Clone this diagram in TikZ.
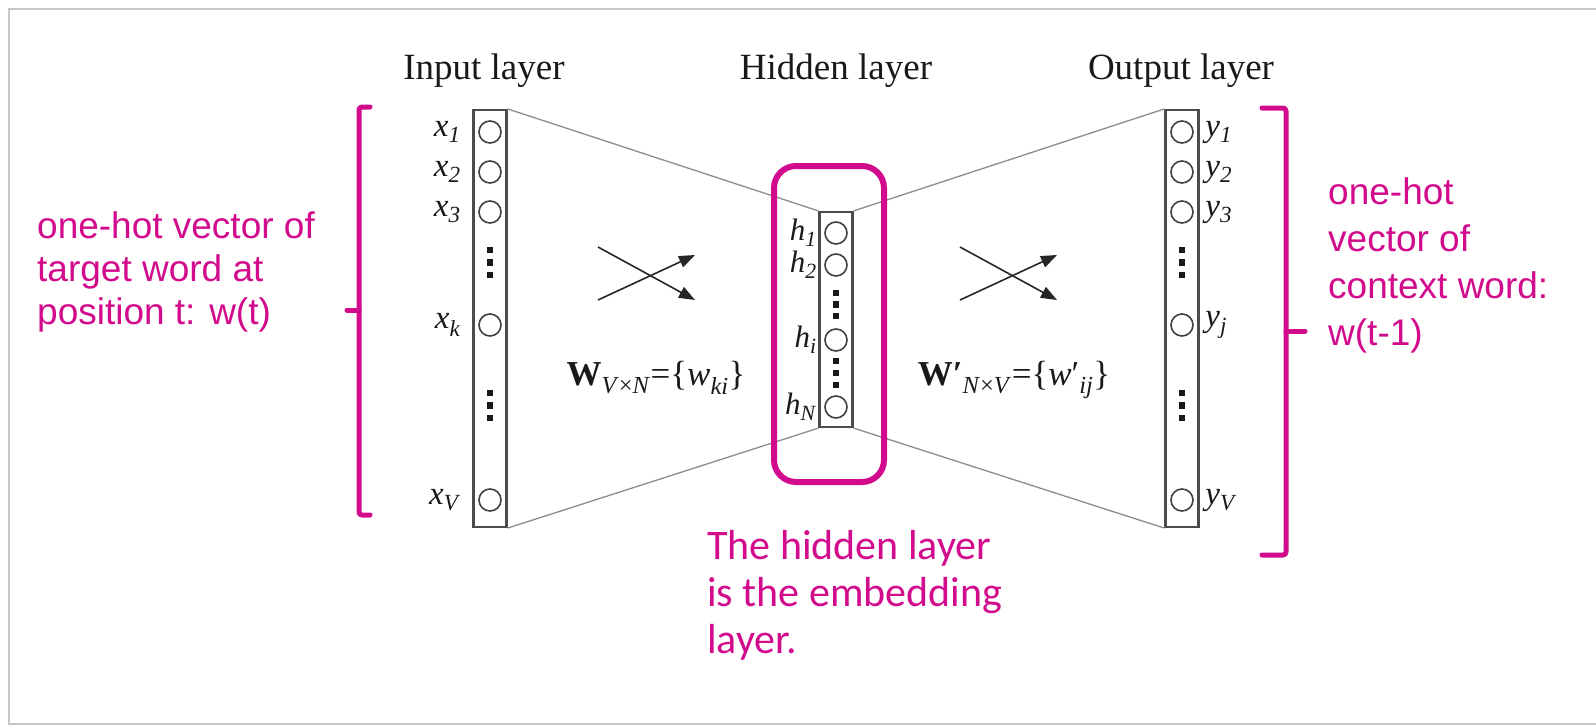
\documentclass[tikz,border=0pt]{standalone}
\usepackage{fontspec}
\setmainfont{Liberation Serif}
\newfontfamily\arialfont{Liberation Sans}
\newfontfamily\calibrifont{Carlito}
\usetikzlibrary{positioning,arrows.meta}
\definecolor{hotpink}{RGB}{210,10,140}
\newcommand{\unitlab}[2]{\textit{#1}\textsubscript{\textit{#2}}}

\begin{document}
\begin{tikzpicture}[x=1pt,y=-1pt,>={Triangle[length=16pt,width=12pt]},
    unit/.style={circle,draw=black!75,line width=1.6pt,minimum size=22pt,inner sep=0pt},
    layerbox/.style={draw=black!70,line width=2.2pt,minimum width=33pt,inner sep=0pt},
    fan/.style={draw=black!45,line width=1.3pt},
    xline/.style={draw=black!85,line width=1.6pt},
    brace/.style={draw=hotpink,line width=5pt,line cap=round,line join=round,rounded corners=3pt},
    note/.style={text=hotpink,align=left,anchor=north west,inner sep=0pt},
    head/.style={anchor=base,text=black!90,font=\fontsize{37}{40}\selectfont},
    lab/.style={text=black!90,font=\fontsize{33}{36}\selectfont},
    hlab/.style={text=black!90,font=\fontsize{31}{34}\selectfont},
    wlab/.style={text=black!90,font=\fontsize{35}{38}\selectfont}]
                \useasboundingbox (0,0) rectangle (1596,728);
                \draw[black!22,line width=2.5pt] (9,9) rectangle (1612,724);
                \node[head] (inhead) at (484,79) {Input layer};
                \node[head] (hidhead) at (836,79) {Hidden layer};
                \node[head] (outhead) at (1181,79) {Output layer};
                \node[layerbox,minimum height=417pt] (inbox) at (490,318.5) {};
                \node[layerbox,minimum height=215pt] (hidbox) at (836,319.5) {};
                \node[layerbox,minimum height=417pt] (outbox) at (1182,318.5) {};
                \draw[fan] (inbox.north east) -- (hidbox.north west);
                \draw[fan] (inbox.south east) -- (hidbox.south west);
                \draw[fan] (hidbox.north east) -- (outbox.north west);
                \draw[fan] (hidbox.south east) -- (outbox.south west);
                \foreach \n/\y in {1/132,2/172,3/212,k/325,V/500}
                    \node[unit,label={[lab,label distance=14pt]left:\unitlab{x}{\n}}] (x\n) at (490,\y) {};
                \foreach \n/\y in {1/233,2/265,i/340,N/407}
                    \node[unit,label={[hlab,label distance=4pt]left:\unitlab{h}{\n}}] (h\n) at (836,\y) {};
                \foreach \n/\y in {1/132,2/172,3/212,j/325,V/500}
                    \node[unit,label={[lab,label distance=8pt]right:\unitlab{y}{\n}}] (y\n) at (1182,\y) {};
                \foreach \y in {250,262.5,275,393,405.5,418}{
                    \fill[black!90] (486.8,\y-3.2) rectangle ++(6.4,6.4);
                    \fill[black!90] (1178.8,\y-3.2) rectangle ++(6.4,6.4);}
                \foreach \y in {293,304.5,316,361,373,385}
                    \fill[black!90] (832.8,\y-3.2) rectangle ++(6.4,6.4);
                \coordinate (la) at (598,247);
                \coordinate (lb) at (598,300);
                \coordinate (lc) at (695,300);
                \coordinate (ld) at (695,255);
                \draw[->,xline] (la) -- (lc);
                \draw[->,xline] (lb) -- (ld);
                \coordinate (ra) at (960,247);
                \coordinate (rb) at (960,300);
                \coordinate (rc) at (1057,300);
                \coordinate (rd) at (1057,255);
                \draw[->,xline] (ra) -- (rc);
                \draw[->,xline] (rb) -- (rd);
                \node[wlab] (wleft) at (656,378) {\textbf{W}\textsubscript{\textit{V}×\textit{N}}=\{\textit{w}\textsubscript{\textit{ki}}\}};
                \node[wlab] (wright) at (1014,380) {\textbf{W′}\textsubscript{\textit{N}×\textit{V}}=\{\textit{w}′\textsubscript{\textit{ij}}\}};
                \node[draw=hotpink,line width=6pt,rounded corners=22pt,minimum width=110pt,minimum height=316pt,inner sep=0pt] (embed) at (829,324) {};
                \draw[brace] (370,107) -- (359,107) -- (359,515) -- (370,515);
                \draw[brace] (359,310) -- (347,310);
                \draw[brace] (1262,108) -- (1286,108) -- (1286,555) -- (1262,555);
                \draw[brace] (1286,331) -- (1305,331);
                \node[note,font=\arialfont\fontsize{37}{43}\selectfont] (srcnote) at (37,211) {one-hot vector of\\target word at\\position t: w(t)};
                \node[note,font=\arialfont\fontsize{37}{47}\selectfont] (ctxnote) at (1328,177) {one-hot\\vector of\\context word:\\w(t-1)};
                \node[note,font=\calibrifont\fontsize{42}{47}\selectfont] (embnote) at (707,530) {The hidden layer\\is the embedding\\layer.};
            \end{tikzpicture}
\end{document}
